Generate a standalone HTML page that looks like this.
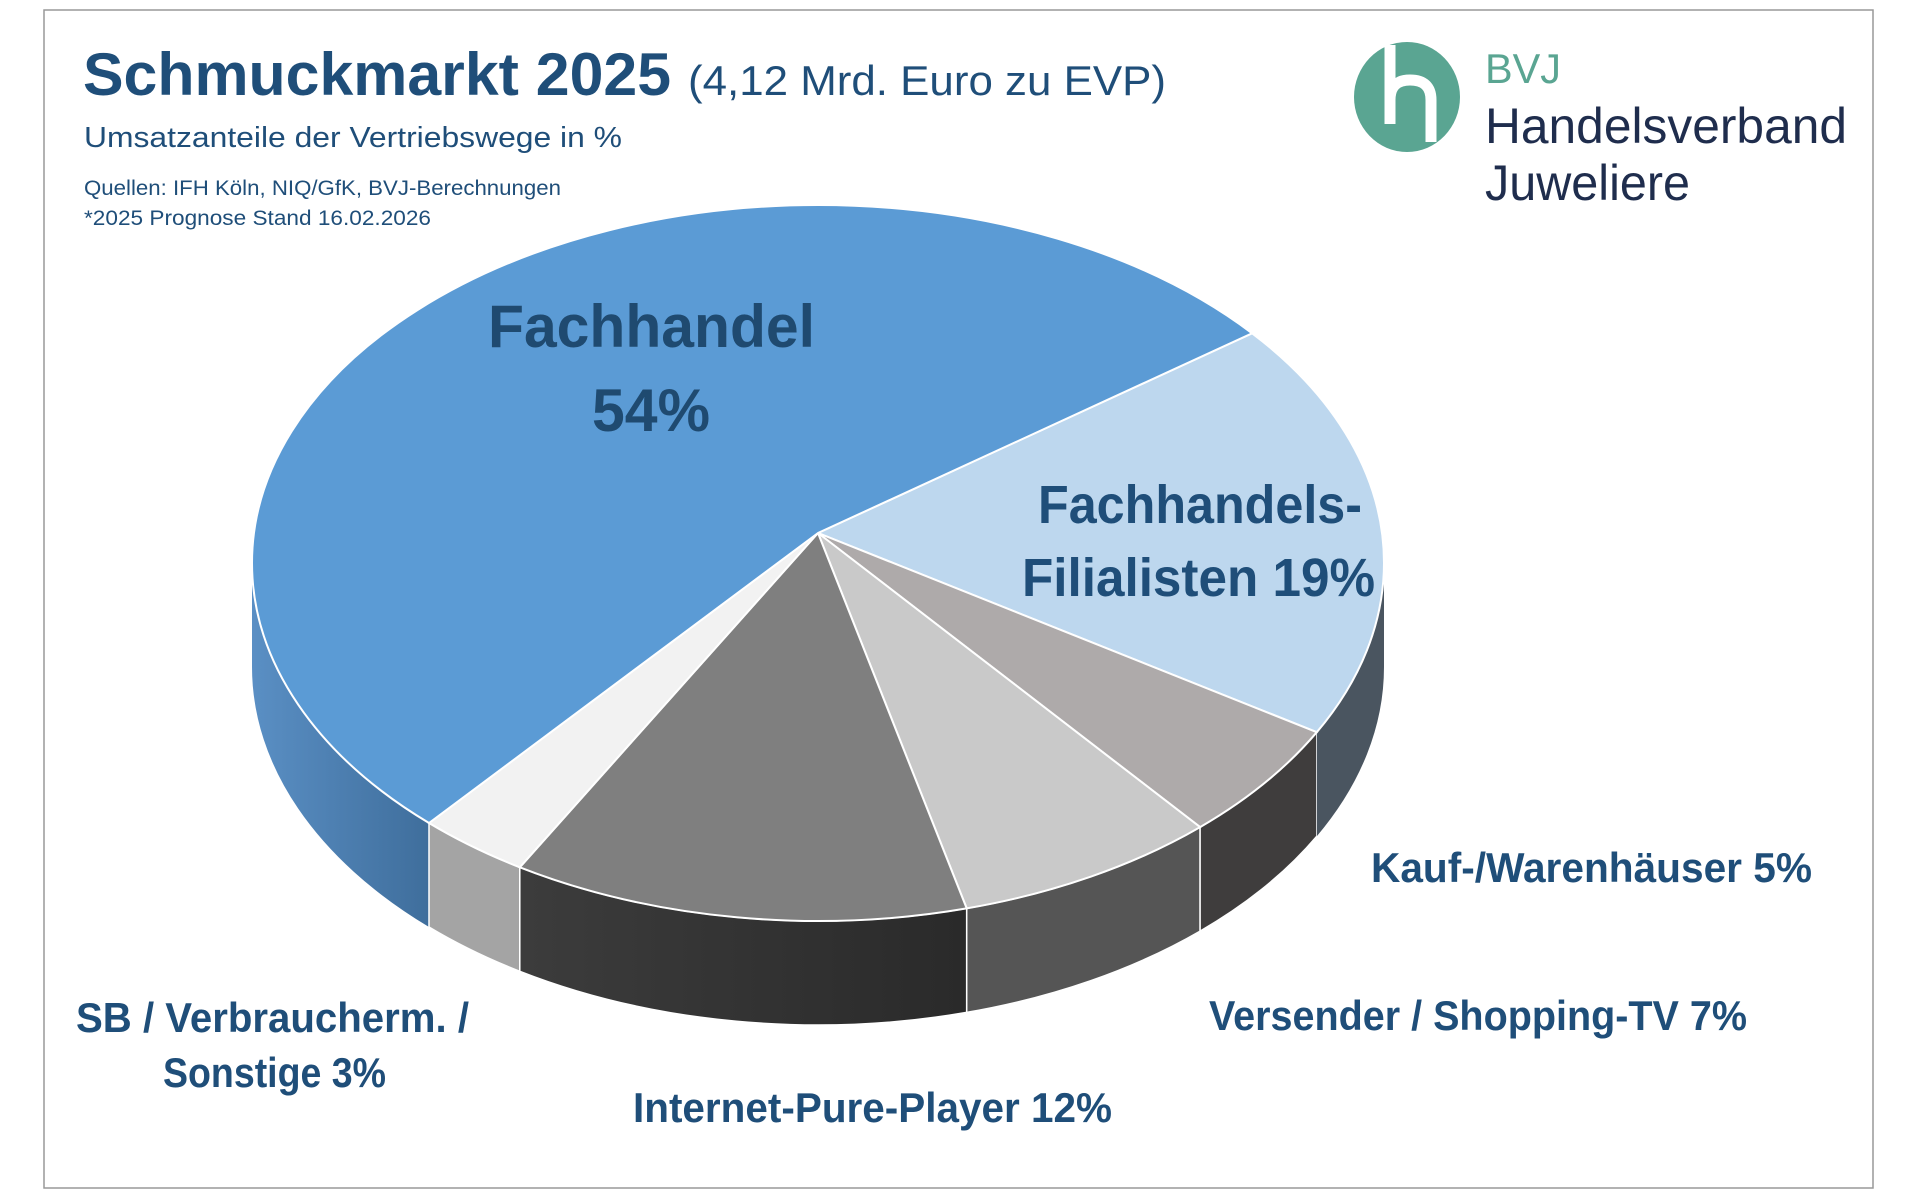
<!DOCTYPE html>
<html><head><meta charset="utf-8"><style>
html,body{margin:0;padding:0;background:#fff;}
svg{display:block}
text{font-family:"Liberation Sans",sans-serif;}
</style></head><body>
<svg width="1920" height="1200" viewBox="0 0 1920 1200" xmlns="http://www.w3.org/2000/svg">
<defs>
<linearGradient id="gb" x1="0" x2="1" y1="0" y2="0"><stop offset="0" stop-color="#5a8fc4"/><stop offset="1" stop-color="#3f6e9c"/></linearGradient>
<linearGradient id="gi" x1="0" x2="1"><stop offset="0" stop-color="#3c3c3c"/><stop offset="1" stop-color="#2a2a2a"/></linearGradient>
</defs>
<rect x="44" y="10" width="1829" height="1178" fill="#fff" stroke="#999" stroke-width="1.5"/>

<!-- side faces (depth 104) -->
<path d="M252 563 A566 358 0 0 0 429 823 L429 927 A566 358 0 0 1 252 667 Z" fill="url(#gb)"/>
<path d="M429 823 A566 358 0 0 0 519.8 867.3 L519.8 971.3 A566 358 0 0 1 429 927 Z" fill="#a4a4a4" stroke="#fff" stroke-width="1.5"/>
<path d="M519.8 867.3 A566 358 0 0 0 966.7 908.4 L966.7 1012.4 A566 358 0 0 1 519.8 971.3 Z" fill="url(#gi)" stroke="#fff" stroke-width="1.5"/>
<path d="M966.7 908.4 A566 358 0 0 0 1200.1 827.1 L1200.1 931.1 A566 358 0 0 1 966.7 1012.4 Z" fill="#555" stroke="#fff" stroke-width="1.5"/>
<path d="M1200.1 827.1 A566 358 0 0 0 1316.8 732.2 L1316.8 836.2 A566 358 0 0 1 1200.1 931.1 Z" fill="#3f3d3d" stroke="#fff" stroke-width="1.5"/>
<path d="M1316.8 732.2 A566 358 0 0 0 1384 563 L1384 667 A566 358 0 0 1 1316.8 836.2 Z" fill="#4a5560"/>

<!-- top faces -->
<g stroke="#fff" stroke-width="2">
<path d="M818 533 L1252.1 333.3 A566 358 0 0 1 1384 563 A566 358 0 0 1 1316.8 732.2 Z" fill="#bdd7ee"/>
<path d="M818 533 L1316.8 732.2 A566 358 0 0 1 1200.1 827.1 Z" fill="#aeaaaa"/>
<path d="M818 533 L1200.1 827.1 A566 358 0 0 1 966.7 908.4 Z" fill="#c9c9c9"/>
<path d="M818 533 L966.7 908.4 A566 358 0 0 1 519.8 867.3 Z" fill="#7f7f7f"/>
<path d="M818 533 L519.8 867.3 A566 358 0 0 1 429 823 Z" fill="#f2f2f2"/>
<path d="M818 533 L429 823 A566 358 0 0 1 252 563 A566 358 0 0 1 818 205 A566 358 0 0 1 1252.1 333.3 Z" fill="#5b9bd5"/>
</g>

<!-- titles -->
<g fill="#1f4e79">
<text x="83" y="95" font-size="60" font-weight="bold" textLength="588" lengthAdjust="spacingAndGlyphs">Schmuckmarkt 2025</text>
<text x="688" y="95" font-size="42" textLength="478" lengthAdjust="spacingAndGlyphs">(4,12 Mrd. Euro zu EVP)</text>
<text x="84" y="147" font-size="29" textLength="538" lengthAdjust="spacingAndGlyphs">Umsatzanteile der Vertriebswege in %</text>
<text x="84" y="195" font-size="21" textLength="477" lengthAdjust="spacingAndGlyphs">Quellen: IFH Köln, NIQ/GfK, BVJ-Berechnungen</text>
<text x="84" y="225" font-size="21" textLength="347" lengthAdjust="spacingAndGlyphs">*2025 Prognose Stand 16.02.2026</text>
</g>

<!-- logo -->
<ellipse cx="1407" cy="97" rx="53" ry="55" fill="#5aa592"/>
<path d="M1390 45 L1390 124 M1390 100 Q1390 80 1410 80 Q1431 80 1431 100 L1431 142" fill="none" stroke="#fff" stroke-width="11"/>
<text x="1485" y="83" font-size="42" fill="#5aa592" textLength="76" lengthAdjust="spacingAndGlyphs">BVJ</text>
<text x="1485" y="143" font-size="50" fill="#1f2d4d" textLength="362" lengthAdjust="spacingAndGlyphs">Handelsverband</text>
<text x="1485" y="200" font-size="50" fill="#1f2d4d" textLength="205" lengthAdjust="spacingAndGlyphs">Juweliere</text>

<!-- labels -->
<g fill="#1f4e79" font-weight="bold">
<text x="488" y="347" font-size="60" textLength="327" lengthAdjust="spacingAndGlyphs" fill="#1f4a70">Fachhandel</text>
<text x="592" y="431" font-size="60" textLength="118" lengthAdjust="spacingAndGlyphs" fill="#1f4a70">54%</text>
<text x="1038" y="523" font-size="54" textLength="324" lengthAdjust="spacingAndGlyphs">Fachhandels-</text>
<text x="1022" y="596" font-size="54" textLength="353" lengthAdjust="spacingAndGlyphs">Filialisten 19%</text>
<text x="1371" y="882" font-size="42" textLength="441" lengthAdjust="spacingAndGlyphs">Kauf-/Warenhäuser 5%</text>
<text x="1209" y="1030" font-size="42" textLength="538" lengthAdjust="spacingAndGlyphs">Versender / Shopping-TV 7%</text>
<text x="76" y="1032" font-size="42" textLength="393" lengthAdjust="spacingAndGlyphs">SB / Verbraucherm. /</text>
<text x="163" y="1087" font-size="42" textLength="223" lengthAdjust="spacingAndGlyphs">Sonstige 3%</text>
<text x="633" y="1122" font-size="42" textLength="479" lengthAdjust="spacingAndGlyphs">Internet-Pure-Player 12%</text>
</g>
</svg>
</body></html>
